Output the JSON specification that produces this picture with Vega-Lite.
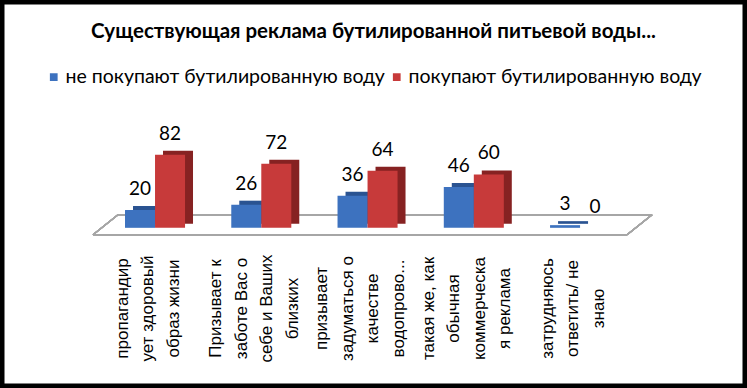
{
  "$schema": "https://vega.github.io/schema/vega-lite/v6.json",
  "width": 747,
  "height": 388,
  "autosize": "none",
  "padding": 0,
  "background": "white",
  "config": {"view": {"stroke": "black", "strokeWidth": 9}, "font": "Lato"},
  "title": {"text": "Существующая реклама бутилированной питьевой воды...", "fontSize": 20.5, "fontWeight": "bold", "font": "Lato", "color": "black", "anchor": "middle", "frame": "group", "offset": -42},
  "data": {"values": [
    {"category": "пропагандир|ует здоровый|образ жизни", "series": "не покупают бутилированную воду", "value": 20},
    {"category": "пропагандир|ует здоровый|образ жизни", "series": "покупают бутилированную воду", "value": 82},
    {"category": "Призывает к|заботе Вас о|себе и Ваших|близких", "series": "не покупают бутилированную воду", "value": 26},
    {"category": "Призывает к|заботе Вас о|себе и Ваших|близких", "series": "покупают бутилированную воду", "value": 72},
    {"category": "призывает|задуматься о|качестве|водопрово...", "series": "не покупают бутилированную воду", "value": 36},
    {"category": "призывает|задуматься о|качестве|водопрово...", "series": "покупают бутилированную воду", "value": 64},
    {"category": "такая же,  как|обычная|коммерческа|я реклама", "series": "не покупают бутилированную воду", "value": 46},
    {"category": "такая же,  как|обычная|коммерческа|я реклама", "series": "покупают бутилированную воду", "value": 60},
    {"category": "затрудняюсь|ответить/ не|знаю", "series": "не покупают бутилированную воду", "value": 3},
    {"category": "затрудняюсь|ответить/ не|знаю", "series": "покупают бутилированную воду", "value": 0}
  ]},
  "encoding": {
    "x": {
      "field": "category", "type": "nominal", "sort": null, "title": null,
      "scale": {"domain": ["пропагандир|ует здоровый|образ жизни", "Призывает к|заботе Вас о|себе и Ваших|близких", "призывает|задуматься о|качестве|водопрово...", "такая же,  как|обычная|коммерческа|я реклама", "затрудняюсь|ответить/ не|знаю"], "range": [101.9, 633.2], "paddingInner": 0.435, "paddingOuter": 0.2175},
      "axis": {"labelAngle": -90, "labelAlign": "center", "labelBaseline": "middle", "labelPadding": -80, "ticks": false, "tickSize": 0, "domain": false, "grid": false,
        "labelExpr": "split(datum.label, '|')", "labelFont": "Liberation Sans", "labelFontSize": 17, "labelLineHeight": 25.5, "labelColor": "black",
        "labelLimit": 0, "labelOverlap": false, "labelBound": false, "labelFlush": false,
        "labelOffset": {"expr": "-7 - (length(split(datum.value, '|')) - 1) * 12.75"}}
    },
    "y": {"field": "value", "type": "quantitative", "scale": {"domain": [-180, 256], "nice": false, "zero": false}, "axis": null}
  },
  "layer": [
    {
      "mark": {"type": "rule", "color": "#a6a6a6", "strokeWidth": 1.2, "xOffset": -32, "x2Offset": 17, "yOffset": 7, "y2Offset": 7},
      "encoding": {"x": {"datum": "пропагандир|ует здоровый|образ жизни", "bandPosition": 0}, "x2": {"datum": "затрудняюсь|ответить/ не|знаю", "bandPosition": 1}, "y": {"datum": 0}, "y2": {"datum": 0}}
    },
    {
      "mark": {"type": "rule", "color": "#a6a6a6", "strokeWidth": 1.2, "xOffset": -7, "x2Offset": 42, "yOffset": -13, "y2Offset": -13},
      "encoding": {"x": {"datum": "пропагандир|ует здоровый|образ жизни", "bandPosition": 0}, "x2": {"datum": "затрудняюсь|ответить/ не|знаю", "bandPosition": 1}, "y": {"datum": 0}, "y2": {"datum": 0}}
    },
    {
      "mark": {"type": "rule", "color": "#a6a6a6", "strokeWidth": 1.2, "xOffset": -32, "x2Offset": -7, "yOffset": 7, "y2Offset": -13},
      "encoding": {"x": {"datum": "пропагандир|ует здоровый|образ жизни", "bandPosition": 0}, "x2": {"datum": "пропагандир|ует здоровый|образ жизни", "bandPosition": 0}, "y": {"datum": 0}, "y2": {"datum": 0}}
    },
    {
      "mark": {"type": "rule", "color": "#a6a6a6", "strokeWidth": 1.2, "xOffset": 17, "x2Offset": 42, "yOffset": 7, "y2Offset": -13},
      "encoding": {"x": {"datum": "затрудняюсь|ответить/ не|знаю", "bandPosition": 1}, "x2": {"datum": "затрудняюсь|ответить/ не|знаю", "bandPosition": 1}, "y": {"datum": 0}, "y2": {"datum": 0}}
    },
    {
      "mark": {"type": "bar", "yOffset": -4, "y2Offset": -4},
      "encoding": {
        "xOffset": {"field": "series", "type": "nominal", "sort": ["не покупают бутилированную воду", "покупают бутилированную воду"], "scale": {"range": [8, 68], "paddingInner": 0, "paddingOuter": 0}},
        "y2": {"datum": 0},
        "color": {"field": "series", "type": "nominal", "sort": ["не покупают бутилированную воду", "покупают бутилированную воду"], "scale": {"range": ["#2a5391", "#862222"]}, "legend": null}
      }
    },
    {
      "mark": {"type": "bar"},
      "encoding": {
        "xOffset": {"field": "series", "type": "nominal", "sort": ["не покупают бутилированную воду", "покупают бутилированную воду"], "scale": {"paddingInner": 0, "paddingOuter": 0}},
        "y2": {"datum": 0},
        "color": {"field": "series", "type": "nominal", "sort": ["не покупают бутилированную воду", "покупают бутилированную воду"], "scale": {"range": ["#3d72bf", "#c73a3a"]},
          "legend": {"orient": "none", "legendX": 44, "legendY": 67, "direction": "horizontal", "title": null, "labelFontSize": 19.5, "labelFont": "Lato", "labelColor": "black", "labelOffset": 2, "symbolType": "square", "symbolSize": 60, "symbolStrokeWidth": 0, "columnPadding": 2, "labelLimit": 0, "padding": 0}}
      }
    },
    {
      "mark": {"type": "text", "baseline": "alphabetic", "dy": -15, "fontSize": 19, "font": "Lato", "color": "black"},
      "encoding": {
        "xOffset": {"field": "series", "type": "nominal", "sort": ["не покупают бутилированную воду", "покупают бутилированную воду"], "scale": {"type": "point", "padding": 0.5}},
        "text": {"field": "value", "type": "quantitative"}
      }
    }
  ],
  "resolve": {"scale": {"color": "independent", "xOffset": "independent"}}
}
